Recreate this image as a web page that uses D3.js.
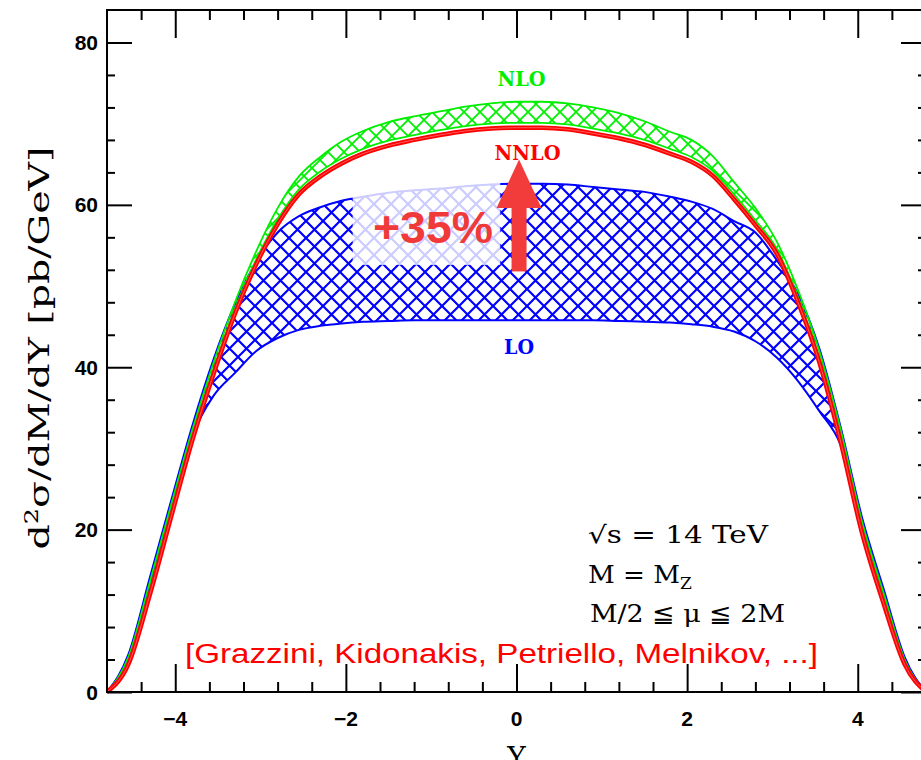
<!DOCTYPE html>
<html>
<head>
<meta charset="utf-8">
<script src="https://cdn.jsdelivr.net/npm/d3@7"></script>
<style>
  body { margin: 0; background: #fff; }
  svg { display: block; }
</style>
</head>
<body>
<svg id="chart"></svg>
<script>
// rapidity grid (Y) and the cross sections [pb/GeV]
const rapidity = [-4.8, -4.55, -4.3, -4.05, -3.8, -3.55, -3.3, -3.05, -2.8, -2.55, -2.3, -2.05, -1.8, -1.5, -1.2, -0.9, -0.6, -0.3,
  0, 0.3, 0.6, 0.9, 1.2, 1.5, 1.8, 2.05, 2.3, 2.55, 2.8, 3.05, 3.3, 3.55, 3.8, 4.05, 4.3, 4.55, 4.8];
const nloUpper = [0, 4.3, 13.5, 23.0, 32.3, 40.6, 48.0, 54.3, 59.6, 63.5, 65.9, 67.8, 69.1, 70.2, 70.9, 71.5, 72.1, 72.5,
  72.7, 72.7, 72.5, 72.0, 71.3, 70.3, 69.0, 68.0, 66.0, 62.8, 59.6, 55.5, 49.5, 42.0, 32.3, 21.0, 12.3, 4.0, 0];
const nloLower = [0, 3.8, 12.5, 22.2, 31.6, 39.8, 47.2, 53.3, 58.2, 61.9, 64.1, 65.7, 66.9, 67.9, 68.6, 69.2, 69.7, 70.0,
  70.1, 70.1, 69.9, 69.4, 68.8, 68.0, 66.9, 65.9, 64.2, 61.3, 58.1, 54.6, 48.6, 41.2, 31.4, 20.2, 11.6, 3.7, 0];
const nnlo = [0, 3.4, 11.9, 21.5, 31.0, 39.2, 46.6, 52.7, 57.6, 61.3, 63.5, 65.1, 66.3, 67.3, 68.0, 68.6, 69.1, 69.4,
  69.5, 69.5, 69.3, 68.8, 68.2, 67.4, 66.3, 65.3, 63.6, 60.7, 57.5, 54.0, 48.0, 40.6, 30.8, 19.6, 11.0, 3.4, 0];
const loUpper = [0, 4.6, 14.0, 23.5, 32.8, 41.0, 47.8, 53.0, 56.6, 58.6, 59.7, 60.5, 61.0, 61.5, 61.8, 62.0, 62.3, 62.5,
  62.6, 62.6, 62.5, 62.2, 61.9, 61.6, 61.0, 60.4, 59.5, 58.0, 56.6, 53.2, 49.0, 42.3, 32.6, 21.5, 12.8, 4.3, 0];
const loLower = [0, 4.0, 13.0, 22.3, 31.5, 36.5, 39.3, 42.0, 43.6, 44.6, 45.1, 45.4, 45.6, 45.7, 45.8, 45.8, 45.8, 45.8,
  45.8, 45.8, 45.8, 45.8, 45.7, 45.6, 45.5, 45.3, 45.0, 44.4, 43.2, 41.2, 38.3, 34.6, 30.4, 20.8, 12.0, 3.9, 0];

const xMajorTicks = [-4, -2, 0, 2, 4];
const yMajorTicks = [0, 20, 40, 60, 80];
const xLabels = ["\u22124", "\u22122", "0", "2", "4"];
const infoLines = ["\u221As = 14 TeV", "M = M", "M/2 \u2266 \u03BC \u2266 2M"];
const citation = "[Grazzini, Kidonakis, Petriello, Melnikov, ...]";

const W = 921, H = 760;
const svg = d3.select("#chart").attr("width", W).attr("height", H);

const x = d3.scaleLinear().domain([-4.8, 4.8]).range([107, 926]);
const y = d3.scaleLinear().domain([0, 84]).range([692, 10]);

// cross-hatch patterns
const defs = svg.append("defs");
function hatch(id, color, s, w) {
  const p = defs.append("pattern")
    .attr("id", id)
    .attr("patternUnits", "userSpaceOnUse")
    .attr("width", s).attr("height", s);
  p.append("path")
    .attr("d", `M0,0L${s},${s}M${s},0L0,${s}` +
      `M${s - 2},-2L${s + 2},2M-2,${s - 2}L2,${s + 2}` +
      `M-2,2L2,-2M${s - 2},${s + 2}L${s + 2},${s - 2}`)
    .attr("stroke", color)
    .attr("stroke-width", w)
    .attr("fill", "none");
}
hatch("hatchBlue", "#0000ff", 17, 2.2);
hatch("hatchGreen", "#00ee00", 16, 1.8);

const rows = rapidity.map((r, i) => ({
  r, loL: loLower[i], loU: loUpper[i], nloL: nloLower[i], nloU: nloUpper[i], nn: nnlo[i]
}));

const curve = d3.curveMonotoneX;
function band(lo, hi, pat, color, sw) {
  svg.append("path")
    .datum(rows)
    .attr("d", d3.area().x(d => x(d.r)).y0(d => y(d[lo])).y1(d => y(d[hi])).curve(curve))
    .attr("fill", `url(#${pat})`);
  [lo, hi].forEach(k => {
    svg.append("path")
      .datum(rows)
      .attr("d", d3.line().x(d => x(d.r)).y(d => y(d[k])).curve(curve))
      .attr("fill", "none")
      .attr("stroke", color)
      .attr("stroke-width", sw);
  });
}

band("loL", "loU", "hatchBlue", "#0000ff", 2);
band("nloL", "nloU", "hatchGreen", "#00ee00", 1.8);

// NNLO line
const nnloLine = d3.line().x(d => x(d.r)).y(d => y(d.nn)).curve(curve);
svg.append("path").datum(rows).attr("d", nnloLine)
  .attr("fill", "none").attr("stroke", "#ff0000").attr("stroke-width", 4.5);
svg.append("path").datum(rows).attr("d", nnloLine)
  .attr("fill", "none").attr("stroke", "#ff7070").attr("stroke-width", 0.8);

// light box behind the +35% annotation
svg.append("rect")
  .attr("x", x(-1.92)).attr("y", y(63.4))
  .attr("width", x(-0.19) - x(-1.92)).attr("height", y(52.6) - y(63.4))
  .attr("fill", "#fff").attr("opacity", 0.8);

// arrow
const arrowX = x(0.03);
svg.append("rect")
  .attr("x", arrowX - 7.5).attr("y", y(59.8))
  .attr("width", 15).attr("height", y(51.8) - y(59.8))
  .attr("fill", "#f23c3c");
svg.append("path")
  .attr("d", `M${arrowX - 22.5},${y(59.6)}L${arrowX + 22.5},${y(59.6)}L${arrowX},${y(65.6)}Z`)
  .attr("fill", "#f23c3c");

svg.append("text")
  .attr("x", 373).attr("y", 243)
  .attr("font-family", "Liberation Sans, Arial, sans-serif")
  .attr("font-weight", "bold").attr("font-size", 44)
  .attr("textLength", 120).attr("lengthAdjust", "spacingAndGlyphs")
  .attr("fill", "#f03a3a")
  .text("+35%");

// curve labels
const serif = "DejaVu Serif, serif";
[["NLO", 0.06, 74.6, "#00ee00", 48], ["NNLO", 0.13, 65.5, "#ff0000", 66], ["LO", 0.03, 41.6, "#0000ff", 30]]
  .forEach(([t, xv, yv, c, len]) => {
    svg.append("text")
      .attr("x", x(xv) - len / 2).attr("y", y(yv))
      .attr("font-family", serif).attr("font-size", 20).attr("font-weight", "bold")
      .attr("textLength", len).attr("lengthAdjust", "spacingAndGlyphs")
      .attr("fill", c).text(t);
  });

// frame
svg.append("rect")
  .attr("x", x(-4.8)).attr("y", y(84))
  .attr("width", x(4.8) - x(-4.8)).attr("height", y(0) - y(84))
  .attr("fill", "none").attr("stroke", "#000").attr("stroke-width", 2);

// ticks on all four sides, pointing inward
const xMinor = d3.range(-4.4, 4.5, 0.4).filter(v => !xMajorTicks.some(m => Math.abs(m - v) < 1e-6));
const yMinor = d3.range(4, 84, 4).filter(v => v % 20 !== 0);
function tickAxis(axis, scale, vals, size, transform) {
  const g = svg.append("g").attr("transform", transform)
    .call(axis(scale).tickValues(vals).tickSize(size).tickSizeOuter(0).tickFormat(""));
  g.select(".domain").remove();
  g.selectAll(".tick line").attr("stroke", "#000").attr("stroke-width", 2);
}
tickAxis(d3.axisTop, x, xMajorTicks, 28, `translate(0,${y(0)})`);
tickAxis(d3.axisTop, x, xMinor, 10, `translate(0,${y(0)})`);
tickAxis(d3.axisBottom, x, xMajorTicks, 28, `translate(0,${y(84)})`);
tickAxis(d3.axisBottom, x, xMinor, 10, `translate(0,${y(84)})`);
tickAxis(d3.axisRight, y, yMajorTicks, 25, `translate(${x(-4.8)},0)`);
tickAxis(d3.axisRight, y, yMinor, 8, `translate(${x(-4.8)},0)`);
tickAxis(d3.axisLeft, y, yMajorTicks, 25, `translate(${x(4.8)},0)`);
tickAxis(d3.axisLeft, y, yMinor, 8, `translate(${x(4.8)},0)`);

// tick labels
const sans = "Liberation Sans, Arial, sans-serif";
svg.selectAll(".ylab").data(yMajorTicks).enter().append("text")
  .attr("x", 98).attr("y", d => y(d)).attr("dy", "0.36em")
  .attr("text-anchor", "end")
  .attr("font-family", sans).attr("font-weight", "bold").attr("font-size", 21)
  .text(d => d);
svg.selectAll(".xlab").data(xMajorTicks).enter().append("text")
  .attr("x", d => x(d)).attr("y", 726)
  .attr("text-anchor", "middle")
  .attr("font-family", sans).attr("font-weight", "bold").attr("font-size", 21)
  .text((d, i) => xLabels[i]);

// axis titles
const yTitle = svg.append("text")
  .attr("transform", "translate(49,348) rotate(-90)")
  .attr("text-anchor", "middle")
  .attr("font-family", serif).attr("font-size", 28)
  .attr("textLength", 403).attr("lengthAdjust", "spacingAndGlyphs");
yTitle.append("tspan").text("d");
yTitle.append("tspan").attr("font-size", 18).attr("dy", -11).text("2");
yTitle.append("tspan").attr("dy", 11).text("\u03C3/dM/dY [pb/GeV]");

svg.append("text")
  .attr("x", x(0)).attr("y", 767)
  .attr("text-anchor", "middle")
  .attr("font-family", serif).attr("font-size", 28)
  .text("Y");

// info block
const info = svg.append("g").attr("font-family", serif).attr("font-size", 24).attr("fill", "#000");
info.append("text").attr("x", 588).attr("y", 543)
  .attr("textLength", 180).attr("lengthAdjust", "spacingAndGlyphs").text(infoLines[0]);
const l2 = info.append("text").attr("x", 588).attr("y", 583);
l2.append("tspan").attr("textLength", 92).attr("lengthAdjust", "spacingAndGlyphs").text(infoLines[1]);
l2.append("tspan").attr("font-size", 17).attr("dy", 6).text("Z");
info.append("text").attr("x", 590).attr("y", 622)
  .attr("textLength", 195).attr("lengthAdjust", "spacingAndGlyphs")
  .text(infoLines[2]);

svg.append("text")
  .attr("x", 185).attr("y", 663)
  .attr("font-family", sans).attr("font-size", 27)
  .attr("textLength", 633).attr("lengthAdjust", "spacingAndGlyphs")
  .attr("fill", "#ff0000")
  .text(citation);
</script>
</body>
</html>
